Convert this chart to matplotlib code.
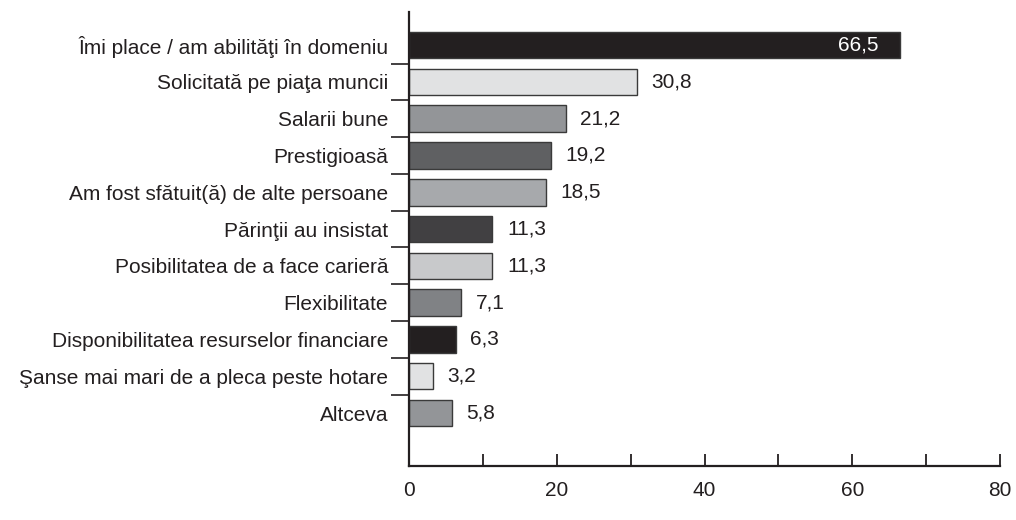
import matplotlib
matplotlib.use("Agg")
import matplotlib.pyplot as plt
import numpy as np

plt.rcParams['font.family'] = ['Liberation Sans', 'DejaVu Sans']

# data
categories = [
    "Îmi place / am abilităţi în domeniu",
    "Solicitată pe piaţa muncii",
    "Salarii bune",
    "Prestigioasă",
    "Am fost sfătuit(ă) de alte persoane",
    "Părinţii au insistat",
    "Posibilitatea de a face carieră",
    "Flexibilitate",
    "Disponibilitatea resurselor financiare",
    "Şanse mai mari de a pleca peste hotare",
    "Altceva",
]
values = [66.5, 30.8, 21.2, 19.2, 18.5, 11.3, 11.3, 7.1, 6.3, 3.2, 5.8]
value_labels = ["66,5", "30,8", "21,2", "19,2", "18,5", "11,3", "11,3", "7,1", "6,3", "3,2", "5,8"]
bar_colors = ["#231f20", "#e1e2e3", "#939598", "#5f6062", "#a7a9ac", "#414042",
              "#c8c9cb", "#808285", "#231f20", "#e1e2e3", "#939598"]

txt = "#231f20"
fs = 15

fig = plt.figure(figsize=(10.16, 5.2), dpi=100)
ax = fig.add_axes([409/1016, 1 - 466/520, 591/1016, 454/520])

y = np.arange(len(categories))
ax.barh(y, values, height=0.72, color=bar_colors, edgecolor="#3a3a3a", linewidth=1.0)

for yi, v, lab in zip(y, values, value_labels):
    if v > 50:
        ax.text(v - 3, yi, lab, ha="right", va="center", color="white", fontsize=fs)
    else:
        ax.text(v + 2, yi, lab, ha="left", va="center", color=txt, fontsize=fs)

ax.set_xlim(0, 80)
ax.set_ylim(11.44, -0.9)

# x axis
ax.set_xticks([0, 20, 40, 60, 80])
ax.set_xticks([10, 30, 50, 70], minor=True)
ax.tick_params(axis="x", which="both", direction="in", length=9, width=1.3,
               color=txt, labelsize=fs, labelcolor=txt, pad=11)

# y axis: marks at boundaries, labels at bar centres
ax.set_yticks(np.arange(0.5, len(categories) - 1, 1.0))
ax.set_yticklabels([])
ax.set_yticks(y, minor=True)
ax.set_yticklabels(categories, minor=True)
ax.tick_params(axis="y", which="major", direction="out", length=13, width=1.2, color=txt)
ax.tick_params(axis="y", which="minor", length=0, labelsize=fs, labelcolor=txt, pad=15)

for s in ["top", "right"]:
    ax.spines[s].set_visible(False)
for s in ["left", "bottom"]:
    ax.spines[s].set_linewidth(1.6)
    ax.spines[s].set_color(txt)

fig.savefig("out.png", dpi=100)
